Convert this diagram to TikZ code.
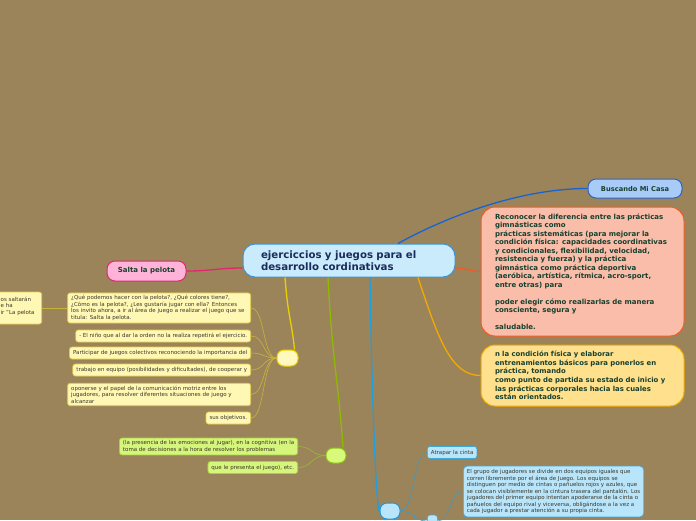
\documentclass[tikz,border=0pt]{standalone}
\usepackage{fontspec}
\setmainfont{DejaVu Sans}
\definecolor{bgc}{HTML}{9C845A}
\definecolor{cenf}{HTML}{C9EBFB}
\definecolor{cend}{HTML}{3D93D3}
\definecolor{centx}{HTML}{1B2B5B}
\definecolor{bigtx}{HTML}{17402E}
\definecolor{busf}{HTML}{A9CBF7}
\definecolor{busd}{HTML}{2D63C0}
\definecolor{busl}{HTML}{1A62D0}
\definecolor{salf}{HTML}{FFB3D9}
\definecolor{sald}{HTML}{E2266E}
\definecolor{recf}{HTML}{F9BDA9}
\definecolor{recd}{HTML}{F15A24}
\definecolor{conf}{HTML}{FFE08C}
\definecolor{cond}{HTML}{F2AA00}
\definecolor{ysf}{HTML}{FFF9BF}
\definecolor{ysd}{HTML}{E9D100}
\definecolor{ycf}{HTML}{FFF8B5}
\definecolor{ycd}{HTML}{E3CB45}
\definecolor{ycl}{HTML}{C9B43A}
\definecolor{gsf}{HTML}{D9F97A}
\definecolor{gsd}{HTML}{8FC01A}
\definecolor{gsl}{HTML}{8DBB00}
\definecolor{gcf}{HTML}{D6F57C}
\definecolor{gcd}{HTML}{A8D040}
\definecolor{gcl}{HTML}{9AB83A}
\definecolor{bsf}{HTML}{B9E5FB}
\definecolor{bsd}{HTML}{2394D4}
\definecolor{bsl}{HTML}{1E9FE0}
\definecolor{bcd}{HTML}{40A8D8}
\definecolor{bcl}{HTML}{3E9ABF}
\definecolor{smtx}{HTML}{3A3628}
\tikzset{
  bignode/.style={inner sep=0pt, line width=1pt, align=left},
  hub/.style={inner sep=0pt, line width=1pt, rounded corners=7pt},
  child/.style={line width=0.7pt, rounded corners=2.5pt, inner xsep=3.5pt, inner ysep=2.5pt,
    minimum height=12pt, align=left, text=smtx, font=\fontsize{5.5}{6.5}\selectfont},
  ychild/.style={child, draw=ycd, fill=ycf},
  gchild/.style={child, draw=gcd, fill=gcf},
  bchild/.style={child, draw=bcd, fill=bsf},
  branch/.style={line width=1.3pt},
  twig/.style={line width=0.6pt}
}
\begin{document}
\begin{tikzpicture}[x=1pt,y=-1pt]
\useasboundingbox[fill=bgc] (0,0) rectangle (696,520);

% central
\node[bignode, draw=cend, fill=cenf, rounded corners=12pt, minimum width=212pt, minimum height=33pt,
  text width=176pt, text=centx, font=\fontsize{10.2}{12.5}\selectfont\bfseries] (c) at (349,260.5)
  {ejerciccios y juegos para el\\desarrollo cordinativas};

% right side
\node[bignode, draw=busd, fill=busf, rounded corners=8pt, minimum width=94pt, minimum height=19pt,
  text=bigtx, font=\fontsize{6.7}{8}\selectfont\bfseries] (bus) at (635,188.5) {Buscando Mi Casa};
\node[bignode, draw=sald, fill=salf, rounded corners=8pt, minimum width=79pt, minimum height=20pt,
  text=bigtx, font=\fontsize{7}{8}\selectfont\bfseries] (sal) at (146.5,271) {Salta la pelota};
\node[bignode, draw=recd, fill=recf, rounded corners=14pt, minimum width=203pt, minimum height=129pt,
  text width=175pt, text=bigtx, font=\fontsize{7}{8.5}\selectfont\bfseries] (rec) at (582.5,271.5)
  {Reconocer la diferencia entre las prácticas\\gimnásticas como\\prácticas sistemáticas (para mejorar la\\condición física: capacidades coordinativas\\y condicionales, flexibilidad, velocidad,\\resistencia y fuerza) y la práctica\\gimnástica como práctica deportiva\\(aeróbica, artística, rítmica, acro-sport,\\entre otras) para\\[8.5pt]poder elegir cómo realizarlas de manera\\consciente, segura y\\[8.5pt]saludable.};
\node[bignode, draw=cond, fill=conf, rounded corners=14pt, minimum width=203pt, minimum height=61pt,
  text width=175pt, text=bigtx, font=\fontsize{6.9}{8.7}\selectfont\bfseries] (con) at (582.5,375.5)
  {n la condición física y elaborar\\entrenamientos básicos para ponerlos en\\práctica, tomando\\como punto de partida su estado de inicio y\\las prácticas corporales hacia las cuales\\están orientados.};

% hubs
\node[hub, draw=ysd, fill=ysf, minimum width=21pt, minimum height=16pt] (ys) at (287.5,358) {};
\node[hub, draw=gsd, fill=gsf, minimum width=20pt, minimum height=15pt] (gs) at (336,455.5) {};
\node[hub, draw=bsd, fill=bsf, minimum width=20pt, minimum height=16pt] (bs) at (390,511) {};

% yellow children
\node[ychild, anchor=east, text width=176pt] (y1) at (251,308) {¿Qué podemos hacer con la pelota?, ¿Qué colores tiene?,\\¿Cómo es la pelota?, ¿Les gustaría jugar con ella? Entonces\\los invito ahora, a ir al área de juego a realizar el juego que se\\titula: Salta la pelota.};
\node[ychild, anchor=east] (y2) at (251,336) {- El niño que al dar la orden no la realiza repetirá el ejercicio.};
\node[ychild, anchor=east] (y3) at (251,353) {Participar de juegos colectivos reconociendo la importancia del};
\node[ychild, anchor=east] (y4) at (251,370) {trabajo en equipo (posibilidades y dificultades), de cooperar y};
\node[ychild, anchor=east, text width=176pt] (y5) at (251,394.5) {oponerse y el papel de la comunicación motriz entre los\\jugadores, para resolver diferentes situaciones de juego y\\alcanzar};
\node[ychild, anchor=east] (y6) at (251,418) {sus objetivos.};
\node[ychild, anchor=east, minimum width=60pt, minimum height=32pt] (y0) at (42,308) {};
\node[anchor=west, inner sep=0pt, align=left, text=smtx, font=\fontsize{5.5}{6.5}\selectfont] (y0t) at (0.5,306)
  {os saltarán\\e ha\\ir "La pelota};

% green children
\node[gchild, anchor=east] (g1) at (298,446.5) {(la presencia de las emociones al jugar), en la cognitiva (en la\\toma de decisiones a la hora de resolver los problemas};
\node[gchild, anchor=east] (g2) at (298,467.5) {que le presenta el juego), etc.};

% blue children
\node[bchild, anchor=west] (b1) at (427,452.5) {Atrapar la cinta};
\node[bchild, anchor=west, minimum width=10pt, minimum height=12pt, inner sep=0pt] (b2) at (427,521) {};
\node[bchild, anchor=west, rounded corners=4pt, inner ysep=3.3pt] (b3) at (463,491.5) {El grupo de jugadores se divide en dos equipos iguales que\\corren libremente por el área de Juego. Los equipos se\\distinguen por medio de cintas o pañuelos rojos y azules, que\\se colocan visiblemente en la cintura trasera del pantalón. Los\\jugadores del primer equipo intentan apoderarse de la cinta o\\pañuelos del equipo rival y viceversa, obligándose a la vez a\\cada jugador a prestar atención a su propia cinta.};

% main branches
\draw[branch, busl] ([xshift=49pt]c.north) .. controls +(45,-25) and +(-70,0) .. (bus.west);
\draw[branch, sald] (sal.east) .. controls +(25,0) and +(-25,0) .. ([yshift=-7.5pt]c.west);
\draw[branch, recd] ([yshift=-7.5pt]c.east) .. controls +(12,0) and +(-12,0) .. (rec.west);
\draw[branch, cond] ([xshift=69pt]c.south) .. controls +(20,60) and +(-30,0) .. (con.west);
\draw[branch, ysd] ([xshift=-64pt]c.south) .. controls +(3,40) and +(-3,-30) .. ([xshift=7pt]ys.north);
\draw[branch, gsl] ([xshift=-21pt]c.south) .. controls +(4,80) and +(-4,-60) .. ([xshift=7pt]gs.north);
\draw[branch, bsl] ([xshift=21pt]c.south) .. controls +(2,130) and +(-3,0) .. (bs.west);

% twigs
\draw[twig, ycl] (y0.east) -- (y1.west);
\foreach \n in {y1,y2,y3,y4,y5,y6}
  \draw[twig, ycl] (ys.west) .. controls +(-14,0) and +(14,0) .. (\n.east);
\foreach \n in {g1,g2}
  \draw[twig, gcl] (gs.west) .. controls +(-14,0) and +(14,0) .. (\n.east);
\draw[twig, bcl] (bs.east) .. controls +(14,0) and +(-14,0) .. (b1.west);
\draw[twig, bcl] (bs.east) .. controls +(14,0) and +(-14,0) .. (b2.west);
\draw[twig, bcl] (b2.east) .. controls +(14,0) and +(-14,0) .. (b3.west);
\end{tikzpicture}
\end{document}
